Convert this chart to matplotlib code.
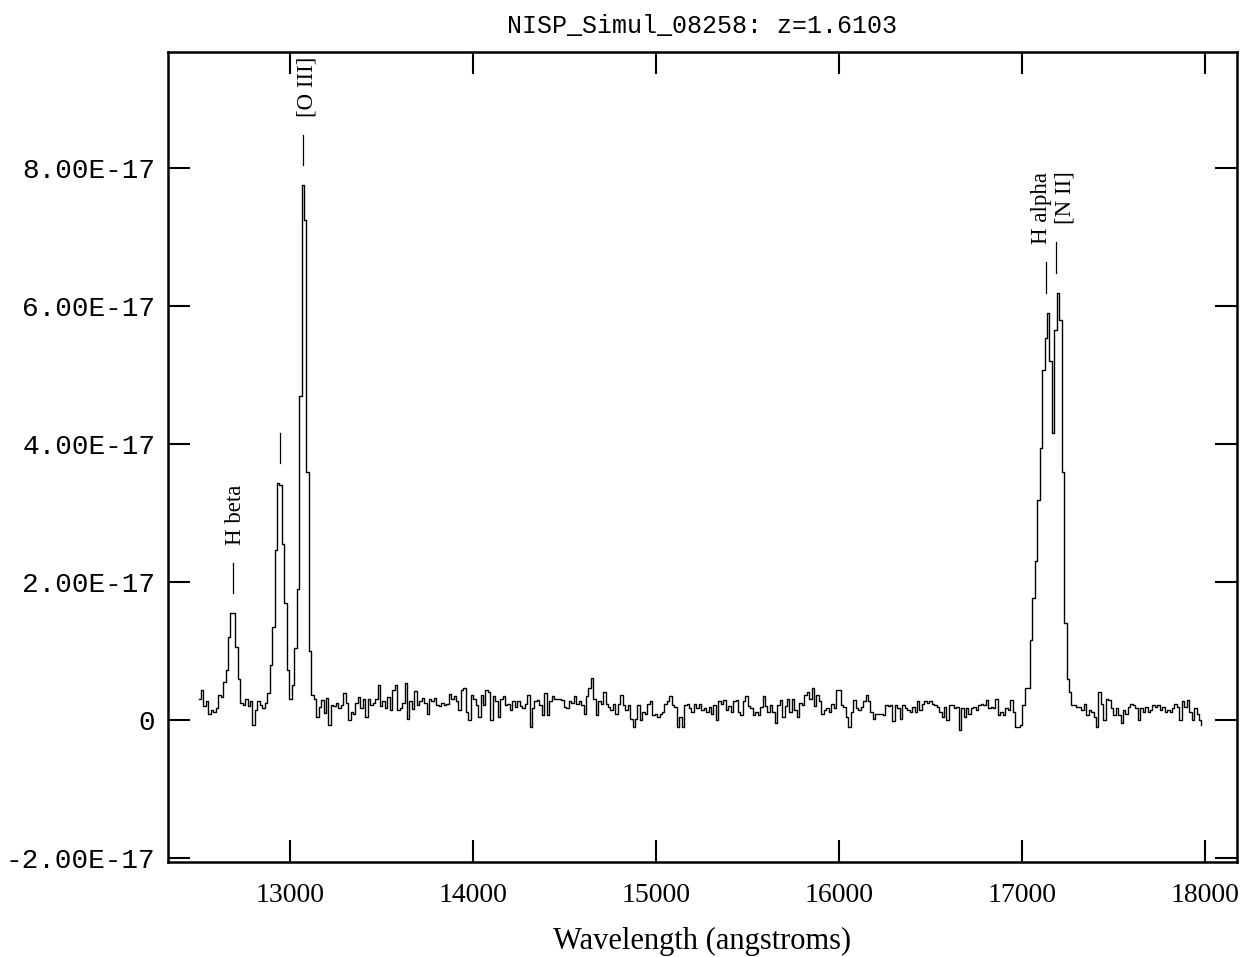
import numpy as np
import matplotlib
matplotlib.use("Agg")
import matplotlib.pyplot as plt

# spectrum, flux in units of 1e-17 erg/s/cm2/A, 13.4 A bins from 12500 A
wave_start = 12500.0
wave_step = 13.4

flux_blue = [0.30, 0.43, 0.20, 0.28, 0.08, 0.15, 0.12, 0.18, 0.36, 0.33,
             0.55, 0.72, 1.20, 1.55, 1.55, 1.06, 0.60, 0.25, 0.22, 0.30,
             0.20, 0.28, -0.07, 0.15, 0.28, 0.22, 0.18, 0.25, 0.39, 0.80,
             1.35, 2.46, 3.43, 3.40, 2.55, 1.70, 0.72, 0.30, 0.50, 1.04,
             1.90, 4.70, 7.75, 7.25, 3.60, 1.00, 0.36, 0.30, 0.05]
flux_cont1 = [0.19, 0.29, 0.10, 0.32, -0.07, 0.22, 0.20, 0.24, 0.18, 0.22,
              0.39, 0.25, 0.00, 0.12, 0.08, 0.25, 0.33, 0.18, 0.30, 0.05,
              0.30, 0.22, 0.24, 0.30, 0.50, 0.20, 0.28, 0.18, 0.33, 0.15,
              0.43, 0.50, 0.15, 0.18, 0.25, 0.53, 0.02, 0.28, 0.16, 0.42,
              0.22, 0.28, 0.32, 0.25, 0.08, 0.30, 0.28, 0.32, 0.22, 0.20,
              0.24, 0.22]
flux_cont2 = [0.23, 0.37, 0.31, 0.34, 0.27, 0.14, 0.43, 0.46, 0.12, 0.00,
              0.36, 0.31, 0.22, 0.05, 0.36, 0.22, 0.43, 0.41, 0.00, 0.34,
              0.27, 0.05, 0.31, 0.34, 0.22, 0.23, 0.14, 0.27, 0.19, 0.27,
              0.20, 0.17, 0.23, 0.36, -0.10, 0.17, 0.27, 0.29, 0.22, 0.07,
              0.39, 0.07, 0.27, 0.34, 0.31, 0.31, 0.31, 0.29, 0.19, 0.17,
              0.27, 0.25, 0.34, 0.23, 0.27, 0.22, 0.09, 0.34, 0.46, 0.61,
              0.31, 0.07, 0.27, 0.23, 0.41, 0.23, 0.19, 0.14, 0.23, 0.09,
              0.23, 0.36, 0.22, 0.14, 0.22, 0.02, -0.10, 0.02, 0.22, 0.00,
              0.12, 0.09, 0.23, 0.27, 0.07, 0.09, 0.05, 0.09, 0.12, 0.23,
              0.27, 0.34, 0.22, 0.19, -0.10, 0.05, -0.10, 0.22, 0.23]
flux_cont3 = [0.17, 0.12, 0.23, 0.17, 0.23, 0.14, 0.17, 0.12, 0.19, 0.09,
              0.22, 0.00, 0.27, 0.23, 0.29, 0.14, 0.20, 0.12, 0.27, 0.29,
              0.12, 0.07, 0.27, 0.34, 0.20, 0.17, 0.07, 0.12, 0.07, 0.19,
              0.34, 0.20, 0.12, 0.22, 0.12, -0.05, 0.22, 0.29, 0.05, 0.20,
              0.31, 0.12, 0.31, 0.14, 0.05, 0.25, 0.22, 0.36, 0.41, 0.30,
              0.46, 0.20, 0.36, 0.27, 0.09, 0.14, 0.17, 0.12, 0.23, 0.17,
              0.43, 0.43, 0.22, 0.19, 0.05, -0.10, 0.12, 0.29, 0.17, 0.14,
              0.19, 0.27, 0.36, 0.27, 0.12, 0.02, 0.09, 0.09, 0.09, 0.07,
              0.22, 0.20, 0.22, -0.02, 0.22, 0.17, 0.02, 0.22, 0.17, 0.14,
              0.12, 0.19, 0.12, 0.27, 0.14, 0.23, 0.27, 0.25]
flux_cont4 = [0.27, 0.23, 0.22, 0.19, 0.12, 0.05, 0.19, 0.00, 0.22, 0.22,
              0.17, 0.19, -0.14, 0.17, 0.05, 0.17, 0.09, 0.17, 0.19, 0.14,
              0.22, 0.23, 0.22, 0.29, 0.17, 0.19, 0.17, 0.31, 0.07, 0.12,
              0.07, 0.17, 0.14, 0.29, 0.12, -0.10, -0.10, -0.07, 0.22, 0.46]
flux_halpha = [0.46, 1.16, 1.77, 2.30, 3.19, 3.94, 5.07, 5.54, 5.90, 5.20,
               4.16, 5.65, 6.19, 5.80, 3.60, 1.40, 0.60, 0.40]
flux_red = [0.22, 0.22, 0.19, 0.19, 0.14, 0.23, 0.07, 0.14, 0.12, 0.05,
            -0.10, 0.41, 0.23, 0.00, 0.31, 0.29, 0.17, 0.07, 0.17, 0.07,
            -0.05, 0.14, 0.09, 0.19, 0.23, 0.22, 0.17, 0.00, 0.17, 0.12,
            0.19, 0.12, 0.14, 0.22, 0.19, 0.22, 0.14, 0.19, 0.12, 0.14,
            0.12, 0.17, 0.23, 0.19, 0.00, 0.27, 0.19, 0.29, 0.12, 0.00,
            0.17, 0.09, 0.00, -0.07]

# line identifications: observed wavelength, label (None = unlabeled)
line_waves = [12689, 12945, 13070, 17131, 17184]
line_names = ["H beta", None, "[O III]", "H alpha", "[N II]"]
line_tops = [1.55, 3.43, 7.75, 5.90, 6.19]
label_shift = [15, 0, 25, -25, 50]

ytick_vals = [-2, 0, 2, 4, 6, 8]
ytick_labels = ["-2.00E-17", "0", "2.00E-17", "4.00E-17", "6.00E-17", "8.00E-17"]
xtick_vals = [13000, 14000, 15000, 16000, 17000, 18000]

flux = np.array(flux_blue + flux_cont1 + flux_cont2 + flux_cont3
                + flux_cont4 + flux_halpha + flux_red) * 1e-17
wave = wave_start + wave_step * np.arange(len(flux))

fig = plt.figure(figsize=(12.47, 9.57), dpi=100)
ax = fig.add_axes([0.1347, 0.0993, 0.8573, 0.8464])

ax.step(wave, flux, where="post", color="black", lw=1.0)

# line markers and labels
for w, name, top, dx in zip(line_waves, line_names, line_tops, label_shift):
    y0 = (top + 0.29) * 1e-17
    ax.plot([w, w], [y0, y0 + 0.44e-17], color="black", lw=0.9)
    if name is not None:
        ax.text(w + dx, y0 + 0.70e-17, name, rotation=90, ha="center", va="bottom",
                fontsize=16.5, family="Liberation Serif", clip_on=False)

ax.set_xlim(12333, 18175)
ax.set_ylim(-2.058e-17, 9.68e-17)

ax.set_xticks(xtick_vals)
ax.set_xticklabels([str(v) for v in xtick_vals], family="Liberation Serif", fontsize=20)
ax.set_yticks([v * 1e-17 for v in ytick_vals])
ax.set_yticklabels(ytick_labels, family="Liberation Mono", fontsize=20)

ax.tick_params(axis="both", direction="in", top=True, right=True, length=16, width=1.5)
ax.tick_params(axis="x", pad=15)
ax.tick_params(axis="y", pad=9)
for s in ax.spines.values():
    s.set_linewidth(1.8)

ax.set_xlabel("Wavelength (angstroms)", family="Liberation Serif", fontsize=22, labelpad=14)
ax.set_title("NISP_Simul_08258: z=1.6103", family="Liberation Mono", fontsize=18, pad=14)

fig.savefig("out.png", dpi=100)
